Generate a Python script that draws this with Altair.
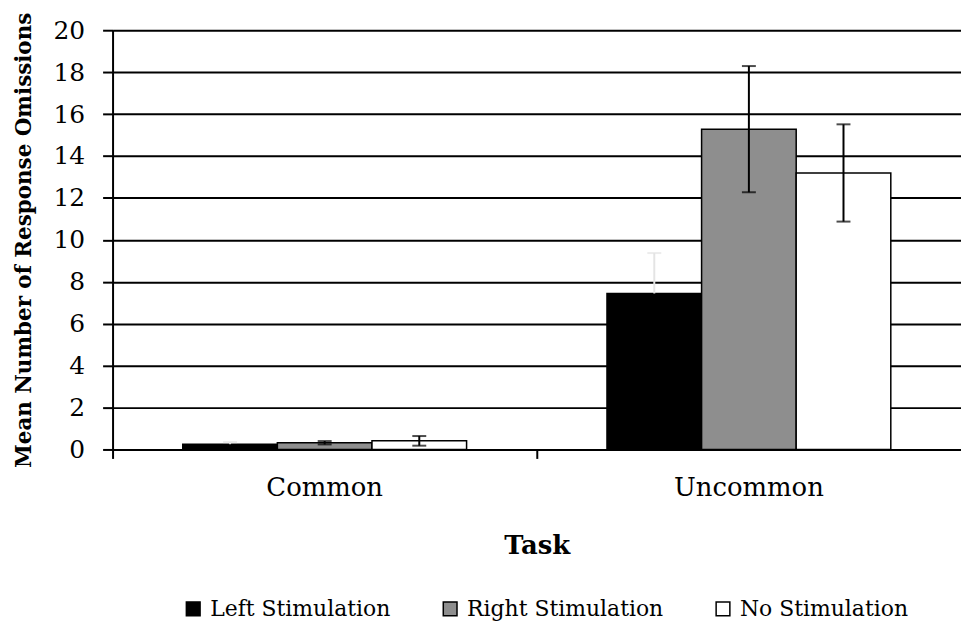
import altair as alt
import pandas as pd

tasks = ["Common", "Uncommon"]
conditions = ["Left Stimulation", "Right Stimulation", "No Stimulation"]
common_means = [0.25, 0.32, 0.41]
common_errors = [0.10, 0.08, 0.23]
uncommon_means = [7.44, 15.28, 13.19]
uncommon_errors = [1.93, 3.01, 2.32]

fills = ["#000000", "#8e8e8e", "#ffffff"]
err_colors_upper = ["#e4e4e4", "#000000", "#000000"]
y_ticks = [0, 2, 4, 6, 8, 10, 12, 14, 16, 18, 20]

rows = []
for t, means, errs in zip(tasks, [common_means, uncommon_means], [common_errors, uncommon_errors]):
    for c, m, e in zip(conditions, means, errs):
        rows.append({"Task": t, "Condition": c, "Mean": m, "Low": m - e, "High": m + e})
df = pd.DataFrame(rows)

FONT = "DejaVu Serif"
W, H = 852, 421

x = alt.X(
    "Task:N", sort=tasks,
    scale=alt.Scale(paddingInner=0, paddingOuter=0),
    axis=alt.Axis(
        title="Task", labelAngle=0, bandPosition=0,
        labelFont=FONT, labelFontSize=26, labelColor="black", labelPadding=16,
        titleFont=FONT, titleFontSize=26, titleFontWeight="bold", titleColor="black",
        titlePadding=32, domainColor="black", domainWidth=2,
        tickColor="black", tickWidth=2, tickSize=9,
    ),
)
xo = alt.XOffset("Condition:N", sort=conditions,
                 scale=alt.Scale(paddingInner=0, paddingOuter=0.742))

y = alt.Y(
    "Mean:Q",
    scale=alt.Scale(domain=[0, 20], nice=False),
    axis=alt.Axis(
        title="Mean Number of Response Omissions", values=y_ticks,
        grid=True, gridColor="black", gridWidth=2,
        domainColor="black", domainWidth=2, tickColor="black", tickWidth=2, tickSize=10,
        labelFont=FONT, labelFontSize=25, labelColor="black", labelPadding=18,
        titleFont=FONT, titleFontSize=21.5, titleFontWeight="bold", titleColor="black",
        titlePadding=18,
    ),
)

bars = alt.Chart(df).mark_bar(stroke="black", strokeWidth=1.5).encode(
    x=x, xOffset=xo, y=y,
    fill=alt.Fill(
        "Condition:N", sort=conditions,
        scale=alt.Scale(domain=conditions, range=fills),
        legend=alt.Legend(
            title=None, orient="none", legendX=70, legendY=570, direction="horizontal",
            symbolType="square", symbolSize=190, symbolStrokeColor="black",
            symbolStrokeWidth=1.5, labelFont=FONT, labelFontSize=22,
            labelColor="black", columnPadding=48, labelOffset=6, labelLimit=0,
        ),
    ),
)

upper_color = alt.Color("Condition:N", scale=alt.Scale(domain=conditions, range=err_colors_upper), legend=None)

rules_hi = alt.Chart(df).mark_rule(strokeWidth=2).encode(
    x=x, xOffset=xo, y=alt.Y("Mean:Q"), y2="High:Q", color=upper_color
)
caps_hi = alt.Chart(df).mark_tick(size=14, thickness=2, orient="horizontal").encode(
    x=x, xOffset=xo, y=alt.Y("High:Q"), color=upper_color
)
rules_lo = alt.Chart(df).mark_rule(strokeWidth=2).encode(
    x=x, xOffset=xo, y=alt.Y("Low:Q"), y2="Mean:Q", color=alt.value("black")
)
caps_lo = alt.Chart(df).mark_tick(size=14, thickness=2, orient="horizontal").encode(
    x=x, xOffset=xo, y=alt.Y("Low:Q"), color=alt.value("black")
)

chart = alt.layer(bars, rules_lo, caps_lo, rules_hi, caps_hi).resolve_scale(
    color="independent", fill="independent"
).properties(
    width=W, height=H,
    autosize=alt.AutoSizeParams(type="none"),
    padding={"left": 105, "top": 21, "right": 0, "bottom": 180},
).configure_view(stroke=None)

chart.save("out.html", embed_options={"renderer": "svg", "actions": False})
